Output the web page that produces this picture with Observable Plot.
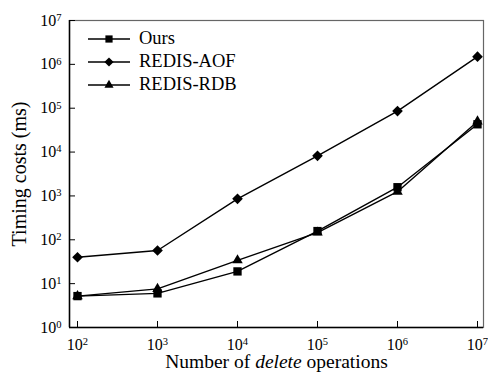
<!DOCTYPE html>
<html><head><meta charset="utf-8">
<script src="https://cdn.jsdelivr.net/npm/d3@7"></script>
<script src="https://cdn.jsdelivr.net/npm/@observablehq/plot@0.6"></script>
<style>
body{margin:0;background:#fff;}
#wrap{position:relative;width:488px;height:376px;overflow:hidden;font-family:"Liberation Serif","Times New Roman",serif;}
#legend{position:absolute;left:87px;top:27px;font-size:18.5px;color:#000;}
#legend .row{display:flex;align-items:center;height:23px;}
#legend svg{display:block;margin-right:8px;flex-shrink:0;}
</style></head><body><div id="wrap"><div id="chart"></div><div id="legend"></div></div>
<script>
// data
const ops = [1e2, 1e3, 1e4, 1e5, 1e6, 1e7];
const ours = [5.2, 6.0, 19, 158, 1580, 43000];
const aof = [40, 57, 860, 8200, 86000, 1500000];
const rdb = [5.2, 7.6, 34, 146, 1250, 50000];
const seriesNames = ["Ours", "REDIS-AOF", "REDIS-RDB"];
const xTicks = [1e2, 1e3, 1e4, 1e5, 1e6, 1e7];
const yTicks = [1e0, 1e1, 1e2, 1e3, 1e4, 1e5, 1e6, 1e7];
const xLabel = "Number of delete operations";
const yLabel = "Timing costs (ms)";

// styles
const symbols = ["square", "diamond2", "triangle"];
const symbolR = [4.7, 4.8, 3.9];

const valuesBySeries = [ours, aof, rdb];
const data = [];
seriesNames.forEach((s, i) => ops.forEach((x, j) => data.push({series: s, ops: x, value: valuesBySeries[i][j], r: symbolR[i]})));

const xDomain = [Math.pow(10, 1.9), Math.pow(10, 7.075)];
const yDomain = [1, 1e7];
const fmt = d => "10^" + Math.round(Math.log10(d));

const chart = Plot.plot({
  width: 488, height: 376,
  marginLeft: 69, marginRight: 5, marginTop: 20, marginBottom: 49,
  style: {fontFamily: "'Liberation Serif', 'Times New Roman', serif", fontSize: "16px", background: "#fff", color: "#000"},
  x: {type: "log", domain: xDomain},
  y: {type: "log", domain: yDomain},
  symbol: {domain: seriesNames, range: symbols},
  r: {type: "identity"},
  marks: [
    Plot.frame({stroke: "#666", strokeWidth: 1.2}),
    Plot.ruleX([xDomain[0]], {stroke: "#000", strokeWidth: 1.5}),
    Plot.ruleY([yDomain[0]], {stroke: "#000", strokeWidth: 1.5}),
    Plot.axisX({ticks: xTicks, tickFormat: fmt, tickSize: -6, tickPadding: 17, label: null}),
    Plot.axisY({ticks: yTicks, tickFormat: fmt, tickSize: -6, tickPadding: 14, label: null}),
    Plot.axisX({ticks: [], label: xLabel, labelAnchor: "center", labelArrow: "none", labelOffset: 40, fontSize: 19.5}),
    Plot.axisY({ticks: [], label: yLabel, labelAnchor: "center", labelArrow: "none", labelOffset: 58, fontSize: 20}),
    Plot.line(data, {x: "ops", y: "value", z: "series", stroke: "#000", strokeWidth: 1.4}),
    Plot.dot(data, {x: "ops", y: "value", symbol: "series", r: "r", fill: "#000", stroke: "none"})
  ]
});
document.getElementById("chart").appendChild(chart);

// superscript tick labels
d3.select(chart).selectAll('g[aria-label$="tick label"] text').each(function () {
  const m = this.textContent.match(/^10\^(-?\d+)$/);
  if (!m) return;
  const s = d3.select(this);
  s.text(null);
  s.append("tspan").text("10");
  s.append("tspan").attr("dy", "-0.45em").attr("font-size", "0.66em").text(m[1]);
});
// italic word in x label
d3.select(chart).selectAll('g[aria-label="x-axis label"] text').each(function () {
  if (this.textContent !== xLabel) return;
  const s = d3.select(this);
  s.text(null);
  s.append("tspan").text("Number of ");
  s.append("tspan").attr("font-style", "italic").text("delete");
  s.append("tspan").text(" operations");
});

// legend
const legend = d3.select("#legend");
seriesNames.forEach((name, i) => {
  const row = legend.append("div").attr("class", "row");
  const sv = row.append("svg").attr("width", 44).attr("height", 14);
  sv.append("line").attr("x1", 1).attr("x2", 43).attr("y1", 7).attr("y2", 7).attr("stroke", "#000").attr("stroke-width", 1.4);
  const typ = {square: d3.symbolSquare, diamond2: d3.symbolDiamond2, triangle: d3.symbolTriangle}[symbols[i]];
  sv.append("path").attr("transform", "translate(22,7)").attr("d", d3.symbol(typ, Math.PI * symbolR[i] * symbolR[i] * 0.75)()).attr("fill", "#000");
  row.append("span").text(name);
});
</script>
</body></html>
